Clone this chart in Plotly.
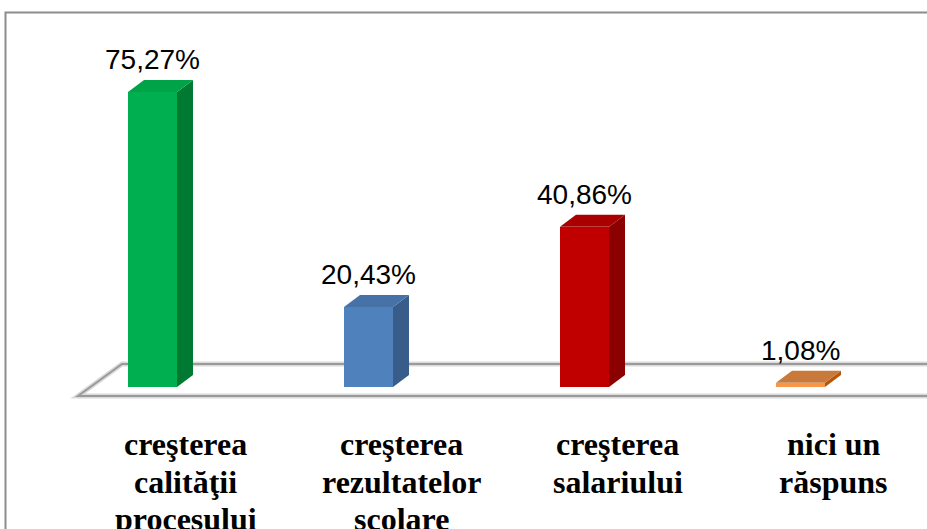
import plotly.graph_objects as go

# ---- data ----
category_lines = [
    ["creşterea", "calităţii", "procesului"],
    ["creşterea", "rezultatelor", "scolare"],
    ["creşterea", "salariului"],
    ["nici un", "răspuns"],
]
values = [75.27, 20.43, 40.86, 1.08]
value_labels = ["75,27%", "20,43%", "40,86%", "1,08%"]

front_colors = ["#00B050", "#4F81BD", "#C00000", "#F79646"]
side_colors = ["#007A33", "#385D8A", "#8B0000", "#B65708"]
top_colors = ["#00A347", "#4672A8", "#A80000", "#C97A3A"]

# ---- layout geometry (pixels -> axis units) ----
W, H = 927, 529
PX_X = 216.0              # pixels per category step
PX_Y = 295 / 75.27        # pixels per percentage point
X0_PX = 152.5             # pixel x of first category centre
Y0_PX = 387.0             # pixel y of value 0
xr = [-X0_PX / PX_X, (W - X0_PX) / PX_X]
yr = [-(H - Y0_PX) / PX_Y, Y0_PX / PX_Y]

BAR_W = 49 / PX_X
DX = 16 / PX_X
DY = 12 / PX_Y

xs = list(range(len(values)))

fig = go.Figure()

# front faces
fig.add_trace(go.Bar(x=xs, y=values, width=BAR_W, base=0,
                     marker=dict(color=front_colors, line=dict(width=0)),
                     hoverinfo="skip", showlegend=False))

# side and top faces
for i, v in enumerate(values):
    r = i + BAR_W / 2
    l = i - BAR_W / 2
    fig.add_trace(go.Scatter(
        x=[r, r + DX, r + DX, r, r], y=[0, DY, v + DY, v, 0],
        mode="lines", fill="toself", fillcolor=side_colors[i],
        line=dict(width=0, color=side_colors[i]),
        hoverinfo="skip", showlegend=False))
    fig.add_trace(go.Scatter(
        x=[l, l + DX, r + DX, r, l], y=[v, v + DY, v + DY, v, v],
        mode="lines", fill="toself", fillcolor=top_colors[i],
        line=dict(width=0, color=top_colors[i]),
        hoverinfo="skip", showlegend=False))

# floor (drawn below the bars)
fl_front_y = -9 / PX_Y
fl_back_y = 23 / PX_Y
fl_fx = (78 - X0_PX) / PX_X
fl_bx = (122 - X0_PX) / PX_X
fx_end = xr[1] + 0.2
floor_path = (f"M {fx_end} {fl_front_y} L {fl_fx} {fl_front_y} "
              f"L {fl_bx} {fl_back_y} L {fx_end} {fl_back_y}")

shapes = [
    dict(type="path", xref="x", yref="y", path=floor_path, layer="below",
         line=dict(color="#DADADA", width=5)),
    dict(type="path", xref="x", yref="y", path=floor_path, layer="below",
         line=dict(color="#9A9A9A", width=2)),
    dict(type="rect", xref="paper", yref="paper",
         x0=5.5 / W, y0=1 - 12.5 / H, x1=1.05, y1=-0.05,
         line=dict(color="#8C8C8C", width=2), fillcolor="rgba(0,0,0,0)"),
]

annotations = []
# value labels
for i, (v, t) in enumerate(zip(values, value_labels)):
    annotations.append(dict(
        x=i, y=v + 32.5 / PX_Y, xref="x", yref="y", text=t, showarrow=False,
        xanchor="center", yanchor="middle",
        font=dict(family="Liberation Sans, Arial, sans-serif", size=28, color="#000000")))

# category labels (one annotation per line)
LABEL_DX = 33 / PX_X
for i, lines in enumerate(category_lines):
    for k, line in enumerate(lines):
        cy = 444 + 37.5 * k
        annotations.append(dict(
            x=i + LABEL_DX, y=1 - cy / H, xref="x", yref="paper", text="<b>" + line + "</b>",
            showarrow=False, xanchor="center", yanchor="middle",
            font=dict(family="Liberation Serif, Times New Roman, serif", size=32, color="#000000")))

fig.update_layout(
    width=W, height=H,
    margin=dict(l=0, r=0, t=0, b=0),
    paper_bgcolor="white", plot_bgcolor="rgba(0,0,0,0)",
    xaxis=dict(range=xr, visible=False, fixedrange=True),
    yaxis=dict(range=yr, visible=False, fixedrange=True),
    bargap=0,
    annotations=annotations,
    shapes=shapes,
)

fig.write_html("out.html",
               config={"displayModeBar": False},
               post_script="document.body.style.margin='0';document.body.style.overflow='hidden';")
